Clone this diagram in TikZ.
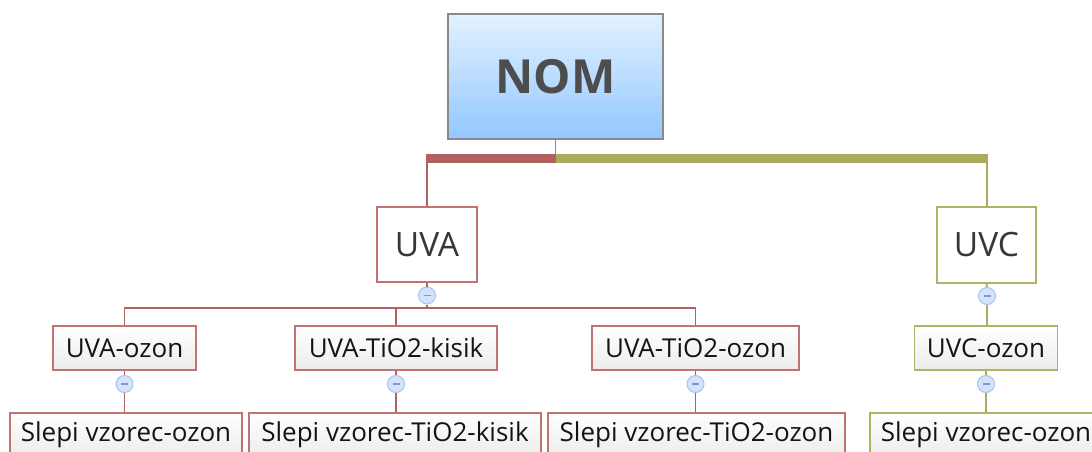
\documentclass[tikz,border=0pt]{standalone}
\usepackage{fontspec}
\setmainfont{Open Sans}
\definecolor{redline}{HTML}{B1615F}
\definecolor{oliveline}{HTML}{ABAB5C}
\definecolor{redborder}{HTML}{C27272}
\definecolor{oliveborder}{HTML}{B2B266}
\definecolor{rootborder}{HTML}{8A8A8A}
\definecolor{roottop}{HTML}{E3F1FF}
\definecolor{rootbot}{HTML}{92C8FF}
\definecolor{roottext}{HTML}{4D4D4D}
\definecolor{mfill}{HTML}{D2E3FB}
\definecolor{mdraw}{HTML}{A9C3EC}
\definecolor{msign}{HTML}{8098C4}
\definecolor{childbot}{HTML}{ECECEC}
\definecolor{txt}{HTML}{141414}
\begin{document}
\begin{tikzpicture}[x=1pt,y=-1pt,
  rootbox/.style={draw=rootborder, line width=1.6pt, top color=roottop, bottom color=rootbot,
    minimum width=215pt, minimum height=125pt, inner sep=0pt, text=roottext,
    font=\fontsize{47}{50}\selectfont\bfseries},
  mainbox/.style={fill=white, line width=1.6pt, minimum width=100pt, minimum height=75pt,
    inner sep=0pt, text=txt!85, font=\fontsize{33.5}{38}\selectfont},
  childbox/.style={line width=1.6pt, top color=white, bottom color=childbot,
    minimum height=44pt, inner sep=0pt, text=txt, font=\fontsize{26}{30}\selectfont},
  collapse/.style={circle, draw=mdraw, fill=mfill, line width=1pt, minimum size=17pt, inner sep=0pt,
    path picture={\draw[msign, line width=1.2pt] ([xshift=-3.5pt]path picture bounding box.center) -- ([xshift=3.5pt]path picture bounding box.center);}},
  redc/.style={draw=redline, line width=1.8pt},
  olivec/.style={draw=oliveline, line width=1.8pt}
]
\useasboundingbox (0,0) rectangle (1092,452);
\clip (0,0) rectangle (1092,452);

% coordinates
\coordinate (barL) at (426,158.8);
\coordinate (barM) at (555.5,158.8);
\coordinate (barR) at (988,158.8);
\coordinate (hb) at (427,308);

% nodes
\node[rootbox] (nom) at (555.5,76.5) {NOM};
\node[mainbox, draw=redborder] (uva) at (427,244.5) {UVA};
\node[mainbox, draw=oliveborder, minimum width=99pt, minimum height=76pt] (uvc) at (986.5,245) {UVC};

\node[collapse] (m1) at (427,295.5) {};
\node[collapse] (m5) at (987,296) {};

\node[childbox, draw=redborder, minimum width=143pt] (uvaoz) at (124.5,348) {UVA-ozon};
\node[childbox, draw=redborder, minimum width=202pt] (uvatk) at (396,348) {UVA-TiO2-kisik};
\node[childbox, draw=redborder, minimum width=207pt] (uvato) at (695.5,348) {UVA-TiO2-ozon};
\node[childbox, draw=oliveborder, minimum width=143pt] (uvcoz) at (986,348) {UVC-ozon};

\node[collapse] (m2) at (124.5,384) {};
\node[collapse] (m3) at (396,384) {};
\node[collapse] (m4) at (695.5,384) {};
\node[collapse] (m6) at (986,384) {};

\node[childbox, draw=redborder, minimum width=232pt] (s1) at (126,435) {Slepi vzorec-ozon};
\node[childbox, draw=redborder, minimum width=292pt] (s2) at (395,435) {Slepi vzorec-TiO2-kisik};
\node[childbox, draw=redborder, minimum width=297pt] (s3) at (696.5,435) {Slepi vzorec-TiO2-ozon};
\node[childbox, draw=oliveborder, minimum width=232pt] (s4) at (986,435) {Slepi vzorec-ozon};

% connectors
\draw[draw=rootborder, line width=1.6pt] (nom.south) -- (barM);
\draw[draw=redline, line width=9pt] (barL) -- (barM);
\draw[draw=oliveline, line width=9pt] (barM) -- (barR);
\draw[redc] (uva.north) -- (uva.north |- barL);
\draw[olivec] (uvc.north -| barR) ++(-1,0) coordinate (uvcTop) (uvcTop) -- (uvcTop |- barR);

\draw[redc] (uva.south) -- (m1.north);
\draw[redc] (m1.south) -- (hb);
\draw[redc] (uvaoz.north) |- (uvato.north |- hb) -- (uvato.north);
\draw[redc] (uvatk.north) -- (uvatk.north |- hb);

\draw[redc] (uvaoz.south) -- (m2.north);
\draw[redc] (m2.south) -- (m2.south |- s1.north);
\draw[redc] (uvatk.south) -- (m3.north);
\draw[redc] (m3.south) -- (m3.south |- s2.north);
\draw[redc] (uvato.south) -- (m4.north);
\draw[redc] (m4.south) -- (m4.south |- s3.north);

\draw[olivec] (uvc.south) -- (m5.north);
\draw[olivec] (m5.south) -- (m5.south |- uvcoz.north);
\draw[olivec] (uvcoz.south) -- (m6.north);
\draw[olivec] (m6.south) -- (m6.south |- s4.north);
\end{tikzpicture}
\end{document}
